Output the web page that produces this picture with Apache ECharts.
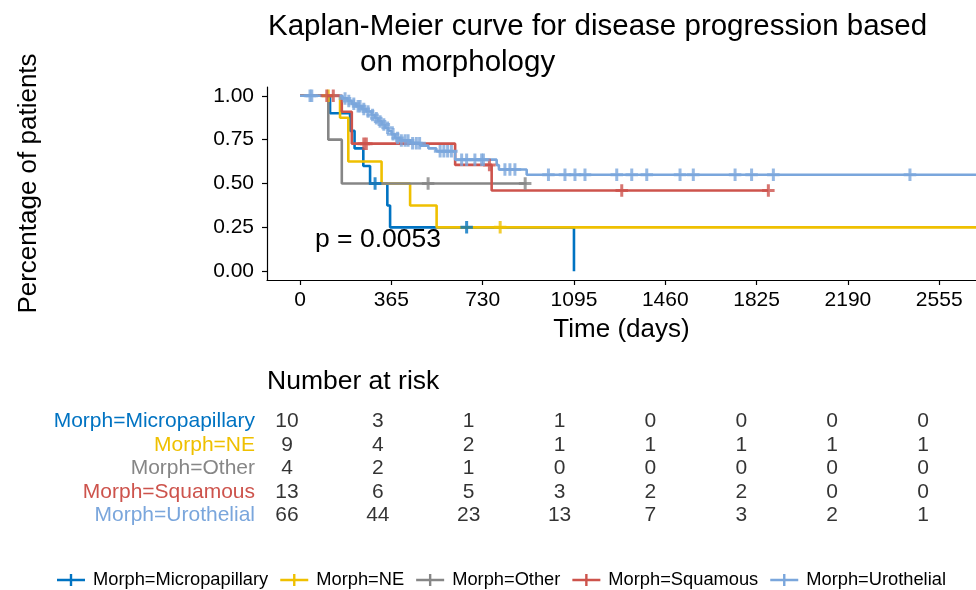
<!DOCTYPE html>
<html><head><meta charset="utf-8">
<script src="https://cdn.jsdelivr.net/npm/echarts@6/dist/echarts.min.js"></script>
<style>html,body{margin:0;padding:0;background:#fff}#c{width:976px;height:590px}</style>
</head><body><div id="c"></div>
<script>
// ---------- data ----------
const groups = ['Morph=Micropapillary', 'Morph=NE', 'Morph=Other', 'Morph=Squamous', 'Morph=Urothelial'];
const colors = ['#0073C2', '#EFC000', '#868686', '#CD534C', '#7AA6DC'];

const microTimes = [0, 120, 200, 218, 253, 280, 349, 360, 1095];
const microSurv  = [1, 0.9, 0.8, 0.7, 0.6, 0.5, 0.375, 0.25, 0];
const microCensor = [300, 666];

const neTimes = [0, 160, 193, 326, 440, 546, 2750];
const neSurv  = [1, 0.875, 0.625, 0.5, 0.375, 0.25, 0.25];
const neCensor = [113, 800];

const otherTimes = [0, 113, 167, 906];
const otherSurv  = [1, 0.75, 0.5, 0.5];
const otherCensor = [512, 900];

const squTimes = [0, 167, 207, 620, 766, 1872];
const squSurv  = [1, 0.909, 0.727, 0.606, 0.46, 0.46];
const squCensor = [107, 133, 255, 265, 757, 1286, 1872];

const uroTimes = [0, 170, 190, 207, 225, 246, 265, 286, 300, 313, 327, 340, 353, 366, 380, 400, 440, 480, 513, 545, 620, 786, 795, 906, 2750];
const uroSurv  = [1, 0.985, 0.97, 0.955, 0.94, 0.925, 0.91, 0.89, 0.872, 0.854, 0.836, 0.818, 0.80, 0.78, 0.76, 0.745, 0.73, 0.716, 0.70, 0.684, 0.636, 0.605, 0.58, 0.55, 0.55];
const uroCensor = [40, 47, 180, 195, 215, 232, 240, 255, 272, 290, 305, 320, 335, 350, 372, 390, 405, 420, 432, 450, 465, 478, 560, 575, 590, 605, 646, 666, 699, 726, 733, 819, 839, 859, 993, 1059, 1099, 1139, 1266, 1326, 1386, 1519, 1572, 1739, 1805, 1892, 2438];

const xTicks = [0, 365, 730, 1095, 1460, 1825, 2190, 2555];
const yTicks = [0, 0.25, 0.5, 0.75, 1];

const riskTimes = [0, 365, 730, 1095, 1460, 1825, 2190, 2555];
const riskMicro = [10, 3, 1, 1, 0, 0, 0, 0];
const riskNE    = [9, 4, 2, 1, 1, 1, 1, 1];
const riskOther = [4, 2, 1, 0, 0, 0, 0, 0];
const riskSqu   = [13, 6, 5, 3, 2, 2, 0, 0];
const riskUro   = [66, 44, 23, 13, 7, 3, 2, 1];

const pValueText = 'p = 0.0053';
const titleLine1 = 'Kaplan-Meier curve for disease progression based';
const titleLine2 = 'on morphology';

// ---------- build ----------
const FONT = '"Liberation Sans", Arial, sans-serif';
const curves = [
  [microTimes, microSurv, microCensor],
  [neTimes, neSurv, neCensor],
  [otherTimes, otherSurv, otherCensor],
  [squTimes, squSurv, squCensor],
  [uroTimes, uroSurv, uroCensor]
];
const riskRows = [riskMicro, riskNE, riskOther, riskSqu, riskUro];

function survAt(times, surv, t) {
  let s = surv[0];
  for (let i = 0; i < times.length; i++) if (times[i] <= t) s = surv[i];
  return s;
}

const plusPath = 'path://M3.8,0H6.2V3.8H10V6.2H6.2V10H3.8V6.2H0V3.8H3.8Z';
const legendPath = 'path://M0,4.8H28V7.2H0Z M12.8,0H15.2V12H12.8Z';

const series = [];
curves.forEach((c, g) => {
  series.push({
    name: groups[g], type: 'line', step: 'end', showSymbol: false, z: 2,
    xAxisIndex: 0, yAxisIndex: 0,
    data: c[0].map((t, i) => [t, c[1][i]]),
    lineStyle: { color: colors[g], width: 2.6 },
    itemStyle: { color: colors[g] },
    emphasis: { disabled: true }, animation: false
  });
});
curves.forEach((c, g) => {
  series.push({
    name: groups[g], type: 'scatter', z: 3,
    xAxisIndex: 0, yAxisIndex: 0,
    symbol: plusPath, symbolSize: 12.5,
    data: c[2].map(t => [t, survAt(c[0], c[1], t)]),
    itemStyle: { color: colors[g] },
    emphasis: { disabled: true }, animation: false
  });
});
const riskData = [];
riskRows.forEach((row, g) => row.forEach((n, i) => riskData.push([riskTimes[i], groups[g], n])));
series.push({
  name: 'risk', type: 'scatter', xAxisIndex: 1, yAxisIndex: 1,
  symbolSize: 0, data: riskData, silent: true, animation: false,
  label: { show: true, position: 'inside', formatter: p => String(p.data[2]),
           color: '#000', fontSize: 21, fontFamily: FONT }
});

const option = {
  backgroundColor: '#fff',
  animation: false,
  textStyle: { fontFamily: FONT },
  grid: [
    { left: 267, right: 0, top: 87, height: 193, containLabel: false, outerBoundsMode: 'none' },
    { left: 287, width: 636, top: 409.5, height: 117.5, containLabel: false, outerBoundsMode: 'none' }
  ],
  xAxis: [
    { type: 'value', gridIndex: 0, min: -132, max: 2702,
      name: 'Time (days)', nameLocation: 'middle', nameGap: 37, nameMoveOverlap: false,
      nameTextStyle: { fontSize: 26, color: '#000', fontFamily: FONT },
      axisLine: { show: true, onZero: false, lineStyle: { color: '#000', width: 1.2 } },
      axisTick: { show: true, length: 5, customValues: xTicks, lineStyle: { color: '#000', width: 1.2 } },
      axisLabel: { customValues: xTicks, formatter: v => String(v), fontSize: 21, color: '#000', margin: 10, fontFamily: FONT },
      splitLine: { show: false } },
    { type: 'value', gridIndex: 1, min: 0, max: 2555, show: false }
  ],
  yAxis: [
    { type: 'value', gridIndex: 0, min: -0.05, max: 1.05,
      name: 'Percentage of patients', nameLocation: 'middle', nameGap: 225, nameRotate: 90, nameMoveOverlap: false,
      nameTextStyle: { fontSize: 26, color: '#000', fontFamily: FONT },
      axisLine: { show: true, onZero: false, lineStyle: { color: '#000', width: 1.2 } },
      axisTick: { show: true, length: 5, customValues: yTicks, lineStyle: { color: '#000', width: 1.2 } },
      axisLabel: { customValues: yTicks, formatter: v => v.toFixed(2), fontSize: 21, color: '#000', margin: 13, fontFamily: FONT },
      splitLine: { show: false } },
    { type: 'category', gridIndex: 1, data: groups, inverse: true,
      axisLine: { show: false }, axisTick: { show: false }, splitLine: { show: false },
      axisLabel: { interval: 0, fontSize: 21, margin: 32, fontFamily: FONT,
                   color: (v, i) => colors[groups.indexOf(v)] } }
  ],
  legend: {
    data: groups.map(g => ({ name: g, icon: legendPath })),
    left: 52, top: 566, itemWidth: 28, itemHeight: 12, itemGap: 12,
    textStyle: { fontSize: 18.3, color: '#000', fontFamily: FONT, padding: [0, 0, 0, 3] },
    selectedMode: false
  },
  graphic: [
    { type: 'text', left: 268, top: 12, style: { text: titleLine1, fontSize: 29.5, fill: '#000', fontFamily: FONT } },
    { type: 'text', left: 360, top: 48, style: { text: titleLine2, fontSize: 29.5, fill: '#000', fontFamily: FONT } },
    { type: 'text', left: 315, top: 226, style: { text: pValueText, fontSize: 26.5, fill: '#000', fontFamily: FONT } },
    { type: 'text', left: 267, top: 368, style: { text: 'Number at risk', fontSize: 26.5, fill: '#000', fontFamily: FONT } }
  ],
  series: series
};
const chart = echarts.init(document.getElementById('c'), null, { renderer: 'canvas' });
chart.setOption(option);
</script>
</body></html>
